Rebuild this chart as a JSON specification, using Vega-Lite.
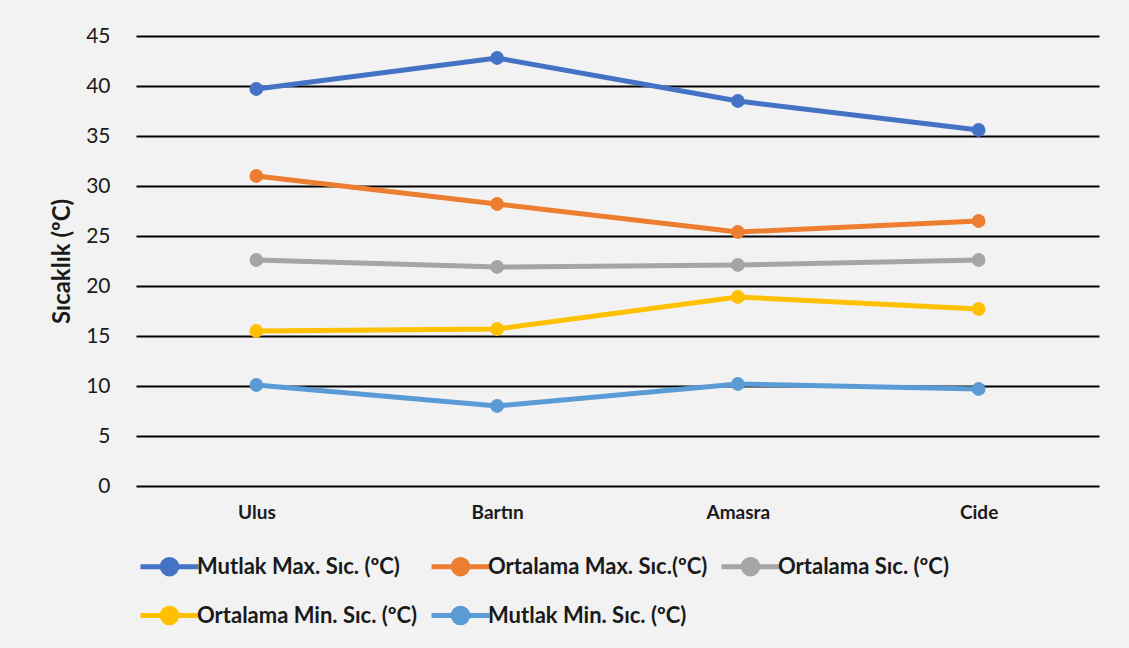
{
  "$schema": "https://vega.github.io/schema/vega-lite/v6.json",
  "width": 963,
  "height": 450,
  "autosize": {"type": "none"},
  "padding": {"left": 136, "top": 36, "right": 30, "bottom": 162},
  "background": "#f2f2f2",
  "config": {
    "view": {"stroke": null},
    "font": "Lato",
    "axis": {"labelFont": "Lato", "titleFont": "Lato"}
  },
  "data": {
    "values": [
      {"city": "Ulus", "series": "Mutlak Max. Sıc. (ºC)", "value": 39.7},
      {"city": "Bartın", "series": "Mutlak Max. Sıc. (ºC)", "value": 42.8},
      {"city": "Amasra", "series": "Mutlak Max. Sıc. (ºC)", "value": 38.5},
      {"city": "Cide", "series": "Mutlak Max. Sıc. (ºC)", "value": 35.6},
      {"city": "Ulus", "series": "Ortalama Max. Sıc.(ºC)", "value": 31.0},
      {"city": "Bartın", "series": "Ortalama Max. Sıc.(ºC)", "value": 28.2},
      {"city": "Amasra", "series": "Ortalama Max. Sıc.(ºC)", "value": 25.4},
      {"city": "Cide", "series": "Ortalama Max. Sıc.(ºC)", "value": 26.5},
      {"city": "Ulus", "series": "Ortalama Sıc. (ºC)", "value": 22.6},
      {"city": "Bartın", "series": "Ortalama Sıc. (ºC)", "value": 21.9},
      {"city": "Amasra", "series": "Ortalama Sıc. (ºC)", "value": 22.1},
      {"city": "Cide", "series": "Ortalama Sıc. (ºC)", "value": 22.6},
      {"city": "Ulus", "series": "Ortalama Min. Sıc. (ºC)", "value": 15.5},
      {"city": "Bartın", "series": "Ortalama Min. Sıc. (ºC)", "value": 15.7},
      {"city": "Amasra", "series": "Ortalama Min. Sıc. (ºC)", "value": 18.9},
      {"city": "Cide", "series": "Ortalama Min. Sıc. (ºC)", "value": 17.7},
      {"city": "Ulus", "series": "Mutlak Min. Sıc. (ºC)", "value": 10.1},
      {"city": "Bartın", "series": "Mutlak Min. Sıc. (ºC)", "value": 8.0},
      {"city": "Amasra", "series": "Mutlak Min. Sıc. (ºC)", "value": 10.2},
      {"city": "Cide", "series": "Mutlak Min. Sıc. (ºC)", "value": 9.7}
    ]
  },
  "mark": {"type": "line", "strokeWidth": 5, "point": {"filled": true, "size": 190, "opacity": 1}},
  "encoding": {
    "x": {
      "field": "city",
      "type": "ordinal",
      "sort": ["Ulus", "Bartın", "Amasra", "Cide"],
      "scale": {"type": "point", "padding": 0.5},
      "axis": {
        "title": null,
        "labelAngle": 0,
        "labelFontWeight": "bold",
        "labelFontSize": 19,
        "labelColor": "#1a1a1a",
        "labelPadding": 17,
        "ticks": false,
        "domain": false,
        "grid": false
      }
    },
    "y": {
      "field": "value",
      "type": "quantitative",
      "scale": {"domain": [0, 45], "nice": false},
      "axis": {
        "values": [0, 5, 10, 15, 20, 25, 30, 35, 40, 45],
        "title": "Sıcaklık (ºC)",
        "titleFontWeight": "bold",
        "titleFontSize": 24,
        "titleColor": "#1a1a1a",
        "titleAngle": -90,
        "titleX": -74,
        "titleY": 225,
        "titleAlign": "center",
        "titleBaseline": "middle",
        "labelFontSize": 21,
        "labelColor": "#1a1a1a",
        "labelPadding": 26,
        "ticks": false,
        "domain": false,
        "grid": true,
        "gridColor": "#000000",
        "gridWidth": 2
      }
    },
    "color": {
      "field": "series",
      "type": "nominal",
      "sort": ["Mutlak Max. Sıc. (ºC)", "Ortalama Max. Sıc.(ºC)", "Ortalama Sıc. (ºC)", "Ortalama Min. Sıc. (ºC)", "Mutlak Min. Sıc. (ºC)"],
      "scale": {
        "domain": ["Mutlak Max. Sıc. (ºC)", "Ortalama Max. Sıc.(ºC)", "Ortalama Sıc. (ºC)", "Ortalama Min. Sıc. (ºC)", "Mutlak Min. Sıc. (ºC)"],
        "range": ["#4472C4", "#ED7D31", "#A5A5A5", "#FFC000", "#5B9BD5"]
      },
      "legend": {
        "title": null,
        "orient": "none",
        "legendX": 2,
        "legendY": 499,
        "direction": "horizontal",
        "columns": 3,
        "columnPadding": 3,
        "rowPadding": -25,
        "labelFontSize": 22,
        "labelFontWeight": "bold",
        "labelColor": "#1a1a1a",
        "labelLimit": 0,
        "labelOffset": -4,
        "symbolType": "M-1,0L1,0M-0.25,0A0.25,0.25,0,1,0,0.25,0A0.25,0.25,0,1,0,-0.25,0Z",
        "symbolSize": 3364,
        "symbolStrokeWidth": 5,
        "encode": {
          "symbols": {
            "update": {
              "fill": {"scale": "color", "field": "value"},
              "stroke": {"scale": "color", "field": "value"},
              "opacity": {"value": 1}
            }
          }
        }
      }
    }
  }
}
